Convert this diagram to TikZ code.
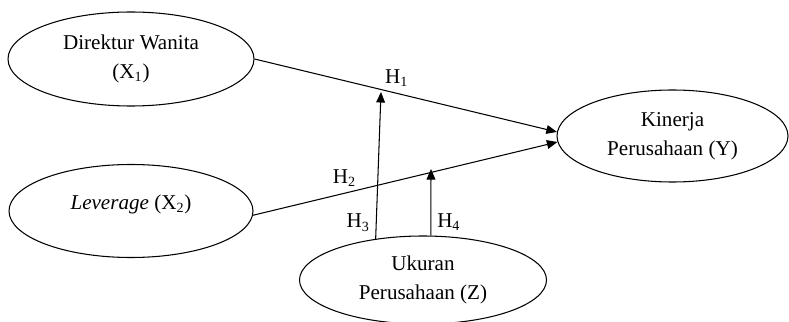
\documentclass[tikz,border=0pt]{standalone}
\usepackage{fontspec}
\setmainfont{Liberation Serif}
\usetikzlibrary{shapes.geometric,arrows.meta}
\begin{document}
\begin{tikzpicture}[line width=0.6pt,
    font=\fontsize{12}{16.5}\selectfont,
    >={Triangle[length=6pt,width=5pt]},
    var/.style={ellipse, draw, inner sep=0pt, align=center}]
  \useasboundingbox (0,0) rectangle (15.78,-6.44);
  \node[var, minimum width=4.92cm, minimum height=1.88cm] (x1) at (2.62,-1.18) {Direktur Wanita\\(X\textsubscript{1})};
  \node[var, minimum width=4.88cm, minimum height=1.86cm, text depth=10pt] (x2) at (2.62,-4.22) {\textit{Leverage} (X\textsubscript{2})};
  \node[var, minimum width=4.62cm, minimum height=1.84cm] (y) at (13.45,-2.72) {Kinerja\\Perusahaan (Y)};
  \node[var, minimum width=4.94cm, minimum height=1.76cm] (z) at (8.46,-5.6) {Ukuran\\Perusahaan (Z)};
  \coordinate (t3) at (7.62,-1.84);
  \coordinate (t4) at (8.62,-3.38);
  \draw[->] (x1.east) -- node[pos=0.47,above] {H\textsubscript{1}} (y.178) ;
  \draw[->] (x2.358) -- node[pos=0.3,above] {H\textsubscript{2}} (y.183) ;
  \draw[->] (z.139) -- node[pos=0.11,left] {H\textsubscript{3}} (t3) ;
  \draw[->] (z.80) -- node[pos=0.2,right] {H\textsubscript{4}} (t4) ;
\end{tikzpicture}
\end{document}
